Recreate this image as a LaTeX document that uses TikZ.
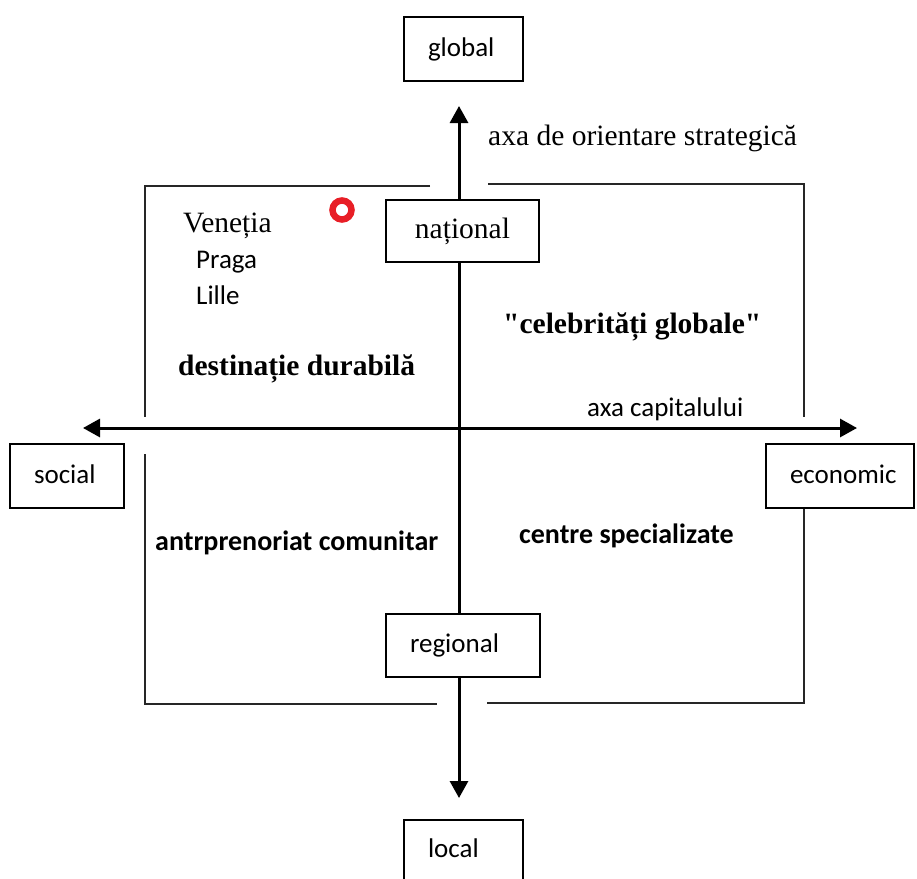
\documentclass[tikz,border=0pt]{standalone}
\usepackage{fontspec}
\setmainfont{Liberation Serif}
\newfontfamily\calibri{Carlito}
% same serif face without TeX mapping, so " stays a straight quote
\newfontfamily\serifplain{Liberation Serif}
\usetikzlibrary{arrows.meta}
\definecolor{ringred}{RGB}{232,30,38}
\begin{document}
\begin{tikzpicture}[x=1pt,y=-1pt,
  serif/.style={font=\fontsize{29.5}{33}\selectfont},
  sans/.style={font=\calibri\fontsize{27}{31}\selectfont},
  serifbold/.style={font=\fontsize{29.5}{33}\selectfont\bfseries},
  quotebold/.style={font=\serifplain\fontsize{29.5}{33}\selectfont\bfseries},
  sansbold/.style={font=\calibri\fontsize{28}{32}\selectfont\bfseries},
  box/.style={draw=black, line width=2pt, fill=white, inner ysep=0pt, inner xsep=24pt,
    align=left, text height=21pt, text depth=7pt},
  axis/.style={line width=3pt,
    {Triangle[width=18pt,length=17pt]}-{Triangle[width=18pt,length=17pt]}},
  frame/.style={draw=black!85, line width=1.6pt},
  lbl/.style={anchor=base west, inner sep=0pt}]

\useasboundingbox (0,0) rectangle (917,878);
\clip (0,0) rectangle (917,878);

% axis end points
\coordinate (top) at (459,106);
\coordinate (bottom) at (459,798);
\coordinate (left) at (83,428);
\coordinate (right) at (857,428);

% quadrant frame
\draw[frame] (430,186) -- (145,186) -- (145,417);
\draw[frame] (488,184) -- (804,184) -- (804,417);
\draw[frame] (145,454) -- (145,704) -- (437,704);
\draw[frame] (804,508) -- (804,703) -- (487,703);

% the two axes
\draw[axis] (bottom) -- (top);
\draw[axis] (left) -- (right);

% end and level boxes
\node[box, sans, minimum width=119pt, minimum height=64pt, text width=71pt] (global) at (463.5,49) {global};
\node[box, serif, minimum width=153pt, minimum height=62pt, text width=105pt, align=center] (national) at (462.5,231) {național};
\node[box, sans, minimum width=154pt, minimum height=63pt, text width=106pt] (regional) at (463,645.5) {regional};
\node[box, sans, anchor=north, minimum width=119pt, text height=37pt, text depth=50pt, text width=71pt] (local) at (463.5,819) {local};
\node[box, sans, minimum width=114pt, minimum height=64pt, text width=66pt] (social) at (67,476) {social};
\node[box, sans, minimum width=148pt, minimum height=64pt, text width=100pt, inner xsep=24pt] (economic) at (840,476) {economic};

% axis captions
\node[lbl, serif] (strat) at (488,145) {axa de orientare strategică};
\node[lbl, sans] (capital) at (587,416) {axa capitalului};

% marker
\node[circle, draw=ringred, line width=6.5pt, minimum size=19pt, inner sep=0pt] (dot) at (342,210) {};

% quadrant contents
\node[lbl, serif] (venetia) at (183,232) {Veneția};
\node[lbl, sans] (praga) at (196,268) {Praga};
\node[lbl, sans] (lille) at (196,304) {Lille};
\node[lbl, serifbold] (durabila) at (178,375) {destinație durabilă};
\node[lbl, quotebold] (celebritati) at (503,333) {"celebrități globale"};
\node[lbl, sansbold] (antr) at (155,550) {antrprenoriat comunitar};
\node[lbl, sansbold] (centre) at (519,543) {centre specializate};
\end{tikzpicture}
\end{document}
